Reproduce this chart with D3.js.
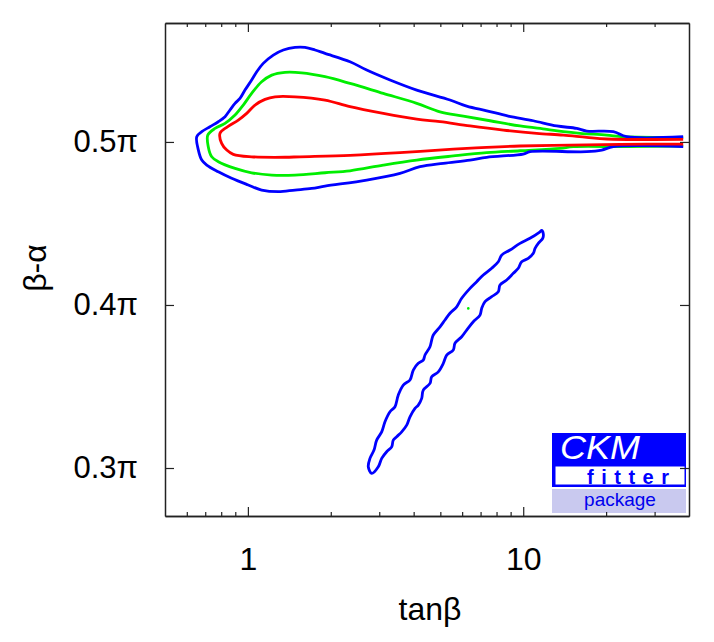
<!DOCTYPE html>
<html>
<head>
<meta charset="utf-8">
<script src="https://cdn.jsdelivr.net/npm/d3@7"></script>
<style>
  body { margin: 0; background: #fff; }
  svg { font-family: "Liberation Sans", Arial, Helvetica, sans-serif; }
</style>
</head>
<body>
<svg id="chart" width="714" height="642"></svg>
<script>
// Axis ticks
const xMajorTicks = [1, 10];
const xMinorTicks = [0.6, 0.7, 0.8, 0.9, 2, 3, 4, 5, 6, 7, 8, 9, 20, 30];
const yTicks = [0.3, 0.4, 0.5];            // in units of pi
const yTickLabels = ["0.3π", "0.4π", "0.5π"];

// Contours: [tanβ, (β-α)/π]
// the three big contours are cut by the plot edge on the right, so they stay open there
const contourBlue = [
  [0.652, 0.5032], [0.680, 0.5063], [0.728, 0.5093], [0.781, 0.5124], [0.826, 0.5155],
  [0.861, 0.5196], [0.898, 0.5237], [0.936, 0.5267], [0.976, 0.5318], [1.032, 0.5380],
  [1.077, 0.5431], [1.137, 0.5482], [1.237, 0.5533], [1.345, 0.5564], [1.483, 0.5580],
  [1.612, 0.5580], [1.753, 0.5564], [1.906, 0.5543], [2.349, 0.5492], [2.701, 0.5441],
  [3.282, 0.5380], [4.104, 0.5318], [5.420, 0.5257], [6.232, 0.5220], [7.369, 0.5191],
  [8.826, 0.5159], [10.88, 0.5130], [13.23, 0.5098], [15.64, 0.5083], [17.00, 0.5067],
  [21.24, 0.5063], [23.76, 0.5032], [38.1, 0.5032], [38.1, 0.4971], [21.24, 0.4971],
  [19.28, 0.4950], [17.00, 0.4940], [10.58, 0.4940], [10.00, 0.4926], [7.369, 0.4906],
  [6.407, 0.4889], [5.125, 0.4869], [4.218, 0.4848], [3.568, 0.4807], [2.701, 0.4766],
  [1.906, 0.4729], [1.705, 0.4715], [1.483, 0.4705], [1.290, 0.4695], [1.122, 0.4705],
  [1.003, 0.4736], [0.873, 0.4777], [0.781, 0.4817], [0.709, 0.4858], [0.680, 0.4889],
  [0.661, 0.4950]
];

const contourGreen = [
  [0.715, 0.5042], [0.760, 0.5083], [0.826, 0.5114], [0.898, 0.5165], [0.962, 0.5226],
  [1.032, 0.5298], [1.122, 0.5369], [1.221, 0.5410], [1.364, 0.5427], [1.568, 0.5424],
  [1.906, 0.5400], [2.349, 0.5359], [3.103, 0.5298], [4.104, 0.5237], [4.986, 0.5185],
  [6.058, 0.5159], [7.575, 0.5130], [9.733, 0.5098], [12.17, 0.5077], [13.98, 0.5063],
  [16.08, 0.5053], [20.10, 0.5042], [23.09, 0.5032], [38.1, 0.5027], [38.1, 0.4975],
  [23.76, 0.4971], [15.20, 0.4971], [13.60, 0.4961], [9.733, 0.4946], [7.369, 0.4934],
  [5.572, 0.4914], [4.104, 0.4889], [3.103, 0.4858], [2.349, 0.4823], [1.906, 0.4811],
  [1.483, 0.4797], [1.221, 0.4797], [1.032, 0.4811], [0.898, 0.4838], [0.781, 0.4879],
  [0.739, 0.4909], [0.718, 0.4971]
];

const contourRed = [
  [0.792, 0.5053], [0.838, 0.5090], [0.923, 0.5134], [0.990, 0.5175], [1.061, 0.5226],
  [1.154, 0.5261], [1.255, 0.5277], [1.483, 0.5277], [1.906, 0.5257], [2.349, 0.5216],
  [3.103, 0.5175], [4.104, 0.5140], [4.986, 0.5124], [6.407, 0.5098], [8.465, 0.5073],
  [11.19, 0.5053], [13.98, 0.5042], [17.00, 0.5028], [20.10, 0.5018], [38.1, 0.5016],
  [38.1, 0.4987], [22.46, 0.4985], [14.78, 0.4981], [9.733, 0.4975], [7.369, 0.4967],
  [5.572, 0.4956], [3.568, 0.4934], [2.349, 0.4918], [1.546, 0.4909], [1.364, 0.4906],
  [1.032, 0.4909], [0.885, 0.4924], [0.838, 0.4950], [0.803, 0.4991]
];

const islandBlue = [
  [11.67, 0.4457], [11.51, 0.4449], [10.58, 0.4409], [9.733, 0.4378], [8.952, 0.4337],
  [8.352, 0.4306], [8.118, 0.4265], [7.682, 0.4225], [7.161, 0.4184], [6.776, 0.4143],
  [6.407, 0.4102], [5.977, 0.4041], [5.732, 0.3989], [5.420, 0.3949], [5.198, 0.3908],
  [4.986, 0.3866], [4.714, 0.3816], [4.651, 0.3785], [4.585, 0.3744], [4.398, 0.3693],
  [4.335, 0.3662], [4.158, 0.3642], [3.988, 0.3601], [3.879, 0.3540], [3.668, 0.3509],
  [3.518, 0.3448], [3.422, 0.3376], [3.282, 0.3345], [3.147, 0.3284], [3.062, 0.3222],
  [2.936, 0.3171], [2.871, 0.3110], [2.776, 0.3059], [2.737, 0.3008], [2.816, 0.2967],
  [2.976, 0.3008], [3.062, 0.3059], [3.192, 0.3100], [3.329, 0.3130], [3.373, 0.3171],
  [3.471, 0.3192], [3.619, 0.3222], [3.774, 0.3263], [3.879, 0.3314], [4.045, 0.3366],
  [4.158, 0.3386], [4.278, 0.3427], [4.335, 0.3478], [4.585, 0.3519], [4.651, 0.3560],
  [4.915, 0.3590], [5.125, 0.3642], [5.273, 0.3693], [5.572, 0.3724], [5.652, 0.3765],
  [5.977, 0.3805], [6.232, 0.3846], [6.586, 0.3897], [6.966, 0.3938], [7.065, 0.3979],
  [7.263, 0.4020], [7.682, 0.4051], [8.118, 0.4081], [8.234, 0.4122], [8.708, 0.4153],
  [9.203, 0.4194], [9.595, 0.4225], [9.872, 0.4265], [10.43, 0.4286], [10.88, 0.4317],
  [11.04, 0.4347], [11.34, 0.4378], [11.77, 0.4409], [11.83, 0.4435]
];

// single best-fit point inside the island
const bestPoint = [6.316, 0.3979];

const svg = d3.select("#chart");

const margin = { top: 23, right: 25, bottom: 126, left: 165 };
const width = 714 - margin.left - margin.right;
const height = 642 - margin.top - margin.bottom;

// tanβ from 0.5 to 40, β-α from 0.85 rad to 1.8 rad (expressed in units of pi)
const x = d3.scaleLog().domain([0.5, 40]).range([0, width]);
const y = d3.scaleLinear().domain([0.85 / Math.PI, 1.8 / Math.PI]).range([height, 0]);

const g = svg.append("g").attr("transform", `translate(${margin.left},${margin.top})`);

const openLine = d3.line()
  .x(d => x(d[0]))
  .y(d => y(d[1]))
  .curve(d3.curveCatmullRom.alpha(0.5));

const closedLine = d3.line()
  .x(d => x(d[0]))
  .y(d => y(d[1]))
  .curve(d3.curveCatmullRomClosed.alpha(0.5));

// Turn a contour that is cut at the right edge into an open path:
// lower branch from the right edge to the tip, then upper branch back to the edge.
function openAtRight(pts) {
  const i = pts.findIndex(p => p[0] >= 38);
  return pts.slice(i + 1).concat(pts.slice(0, i + 1));
}

const contours = [
  { d: openLine(openAtRight(contourGreen)), color: "#00ee00" },
  { d: openLine(openAtRight(contourBlue)), color: "#0000ff" },
  { d: openLine(openAtRight(contourRed)), color: "#ff0000" },
  { d: closedLine(islandBlue), color: "#0000ff" }
];

g.selectAll("path.contour")
  .data(contours)
  .join("path")
  .attr("class", "contour")
  .attr("d", d => d.d)
  .attr("fill", "none")
  .attr("stroke", d => d.color)
  .attr("stroke-width", 2.8)
  .attr("stroke-linejoin", "round");

g.append("circle")
  .attr("cx", x(bestPoint[0]))
  .attr("cy", y(bestPoint[1]))
  .attr("r", 1.3)
  .attr("fill", "#00ee00");

// CKMfitter logo
const logo = g.append("g").attr("transform", `translate(${552 - margin.left},${433 - margin.top})`);
logo.append("rect").attr("width", 134).attr("height", 54).attr("fill", "#0000ff");
logo.append("rect").attr("x", 3.5).attr("y", 33.5).attr("width", 129).attr("height", 18).attr("fill", "#fff");
logo.append("rect").attr("y", 56).attr("width", 134).attr("height", 24).attr("fill", "#c9c9ef");
logo.append("text")
  .attr("x", 8).attr("y", 26)
  .attr("fill", "#fff")
  .attr("font-size", 33)
  .attr("font-style", "italic")
  .attr("textLength", 80)
  .attr("lengthAdjust", "spacingAndGlyphs")
  .text("CKM");
logo.append("text")
  .attr("x", 35).attr("y", 50.5)
  .attr("fill", "#0000ff")
  .attr("font-size", 20)
  .attr("font-weight", "bold")
  .attr("textLength", 82)
  .attr("lengthAdjust", "spacing")
  .text("fitter");
logo.append("text")
  .attr("x", 68).attr("y", 73)
  .attr("text-anchor", "middle")
  .attr("fill", "#0000ee")
  .attr("font-size", 19)
  .text("package");

// Axes: ticks point inward on all four sides
function styleAxis(sel) {
  sel.select(".domain").attr("stroke", "#222").attr("stroke-width", 1.5);
  sel.selectAll(".tick line").attr("stroke", "#222").attr("stroke-width", 1.2);
  sel.selectAll(".tick text").attr("fill", "#000").attr("font-family", null);
}

g.append("g")
  .attr("transform", `translate(0,${height})`)
  .call(d3.axisBottom(x).tickValues(xMajorTicks).tickFormat(d3.format("d"))
    .tickSize(-9).tickSizeOuter(0).tickPadding(31))
  .call(styleAxis)
  .call(s => s.selectAll(".tick text").attr("font-size", 32));

g.append("g")
  .attr("transform", `translate(0,${height})`)
  .call(d3.axisBottom(x).tickValues(xMinorTicks).tickFormat("").tickSize(-4).tickSizeOuter(0))
  .call(styleAxis);

g.append("g")
  .call(d3.axisTop(x).tickValues(xMajorTicks).tickFormat("").tickSize(-9).tickSizeOuter(0))
  .call(styleAxis);

g.append("g")
  .call(d3.axisTop(x).tickValues(xMinorTicks).tickFormat("").tickSize(-4).tickSizeOuter(0))
  .call(styleAxis);

g.append("g")
  .call(d3.axisLeft(y).tickValues(yTicks).tickFormat((d, i) => yTickLabels[i])
    .tickSize(-9).tickSizeOuter(0).tickPadding(27))
  .call(styleAxis)
  .call(s => s.selectAll(".tick text").attr("font-size", 31));

g.append("g")
  .attr("transform", `translate(${width},0)`)
  .call(d3.axisRight(y).tickValues(yTicks).tickFormat("").tickSize(-9).tickSizeOuter(0))
  .call(styleAxis);

// Axis titles
svg.append("text")
  .attr("x", 430).attr("y", 620)
  .attr("text-anchor", "middle")
  .attr("font-size", 32)
  .text("tanβ");

svg.append("text")
  .attr("transform", "translate(46,268) rotate(-90)")
  .attr("text-anchor", "middle")
  .attr("font-size", 32)
  .text("β-α");
</script>
</body>
</html>
